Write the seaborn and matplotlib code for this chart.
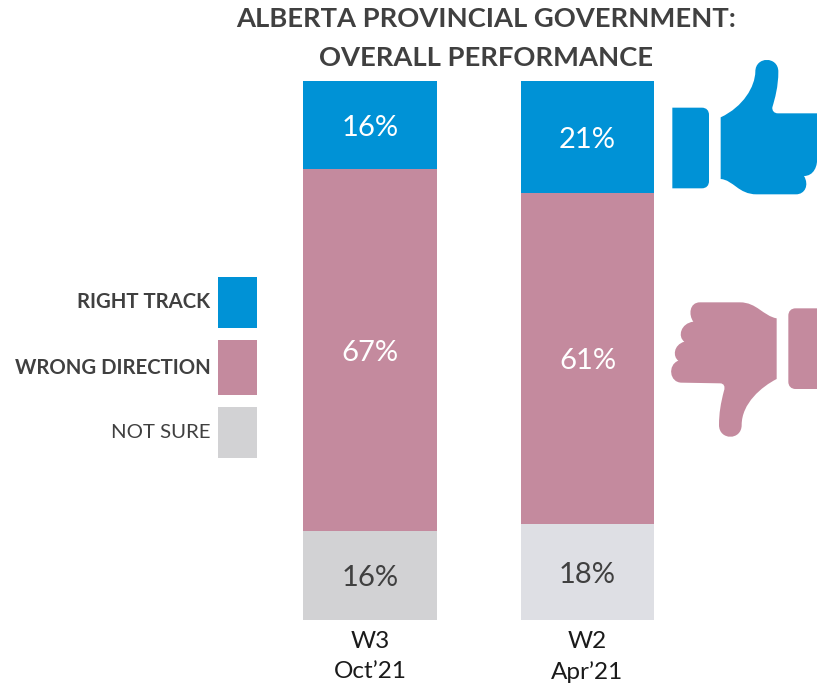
import matplotlib
matplotlib.use('Agg')
import matplotlib.pyplot as plt
import numpy as np
import seaborn as sns
from matplotlib.patches import PathPatch, Rectangle
from matplotlib.path import Path

# Data (heights fill the bar, printed labels are rounded)
waves = ['W3\nOct’21', 'W2\nApr’21']
series = ['RIGHT TRACK', 'WRONG DIRECTION', 'NOT SURE']
right_track = [16.3, 20.8]
wrong_direction = [67.2, 61.4]
not_sure = [16.5, 17.8]
labels_right = ['16%', '21%']
labels_wrong = ['67%', '61%']
labels_unsure = ['16%', '18%']

BLUE = '#0092D6'
PINK = '#C48A9E'
GREY = '#D2D2D4'
LIGHT_GREY = '#DEDFE4'
INK = '#404040'
W, H = 817, 684

sns.set_theme(style='white')
plt.rcParams['font.family'] = ['Lato', 'DejaVu Sans']

fig = plt.figure(figsize=(W / 100, H / 100), dpi=100)

# bars sit between y=81 and y=620 px
ax = fig.add_axes([250 / W, (H - 620) / H, 460 / W, 539 / H])

# Stack from the bottom so the grey segment is on the axis
stack = [
    (not_sure, [GREY, LIGHT_GREY], labels_unsure, INK),
    (wrong_direction, [PINK, PINK], labels_wrong, 'white'),
    (right_track, [BLUE, BLUE], labels_right, 'white'),
]
bottom = np.zeros(2)
for values, colors, labels, text_color in stack:
    sns.barplot(x=waves, y=values, bottom=bottom, color=colors[0], width=0.616,
                saturation=1, linewidth=0, ax=ax)
    container = ax.containers[-1]
    for bar, c in zip(container, colors):
        bar.set_facecolor(c)
    ax.bar_label(container, labels=labels, label_type='center', color=text_color,
                 fontsize=21, padding=-2)
    bottom = bottom + np.array(values)

ax.set_xlim((250 - 370) / 217.5, (710 - 370) / 217.5)
ax.set_ylim(0, 100)
ax.set_yticks([])
ax.tick_params(axis='x', length=0, pad=8, labelsize=17.5, labelcolor='#1a1a1a')
for lab in ax.get_xticklabels():
    lab.set_linespacing(1.52)
sns.despine(ax=ax, left=True, bottom=True)
ax.patch.set_alpha(0)

# Overlay in pixel coordinates for title, legend and icons
ov = fig.add_axes([0, 0, 1, 1], zorder=3)
ov.set_xlim(0, W)
ov.set_ylim(H, 0)
ov.axis('off')

ov.text(486, 19, 'ALBERTA PROVINCIAL GOVERNMENT:', ha='center', va='center',
        fontsize=19.7, fontweight='bold', color=INK)
ov.text(486, 58, 'OVERALL PERFORMANCE', ha='center', va='center',
        fontsize=19.7, fontweight='bold', color=INK)

# Legend
legend_y = [(277, 328), (340, 395), (407, 458)]
legend_colors = [BLUE, PINK, GREY]
legend_weights = ['bold', 'bold', 'normal']
for name, (y0, y1), c, weight in zip(series, legend_y, legend_colors, legend_weights):
    ov.add_patch(Rectangle((218, y0), 39, y1 - y0, facecolor=c, edgecolor='none'))
    ov.text(210.5, (y0 + y1) / 2, name, ha='right', va='center', fontsize=14.7,
            fontweight=weight, color=INK)


def icon(x0, y0, moves, color):
    # moves are given in 3x crop coordinates, x0/y0 is the crop origin
    verts, codes = [], []
    for step in moves:
        pts = [(x0 + px / 3, y0 + py / 3) for px, py in step]
        if len(pts) == 1:
            codes.append(Path.LINETO if verts else Path.MOVETO)
        else:
            codes.extend([Path.CURVE4] * 3)
        verts.extend(pts)
    verts.append(verts[0])
    codes.append(Path.CLOSEPOLY)
    ov.add_patch(PathPatch(Path(verts, codes), facecolor=color, edgecolor='none'))


thumb_up = [
    [(212, 202)],
    [(280, 170), (315, 110), (316, 65)],
    [(316, 18), (385, 18), (385, 65)],
    [(385, 110), (375, 145), (367, 172)],
    [(366, 182), (372, 190), (384, 190)],
    [(560, 190)], [(560, 315)], [(501, 315)],
    [(505, 350), (490, 378), (462, 378)],
    [(478, 405), (465, 433), (438, 433)],
    [(320, 433)],
    [(265, 433), (250, 390), (212, 387)],
]
icon(650, 50, thumb_up, BLUE)
icon(650, 50, [
    [(67, 173)], [(155, 173)],
    [(170, 173), (177, 182), (177, 195)],
    [(177, 393)],
    [(177, 406), (170, 415), (155, 415)],
    [(67, 415)],
], BLUE)

thumb_down = [
    [(380, 85)],
    [(340, 78), (320, 37), (270, 37)],
    [(150, 37)],
    [(118, 37), (115, 75), (130, 95)],
    [(92, 100), (82, 140), (103, 155)],
    [(70, 165), (68, 200), (85, 212)],
    [(52, 225), (58, 278), (95, 278)],
    [(210, 280)],
    [(222, 280), (226, 290), (222, 302)],
    [(212, 340), (207, 370), (207, 405)],
    [(207, 452), (275, 452), (275, 405)],
    [(275, 340), (335, 290), (380, 267)],
]
icon(650, 290, thumb_down, PINK)
icon(650, 290, [
    [(520, 55)], [(520, 297)], [(437, 297)],
    [(423, 297), (415, 288), (415, 275)],
    [(415, 77)],
    [(415, 64), (423, 55), (437, 55)],
], PINK)

fig.savefig('out.png', dpi=100, facecolor='white')
